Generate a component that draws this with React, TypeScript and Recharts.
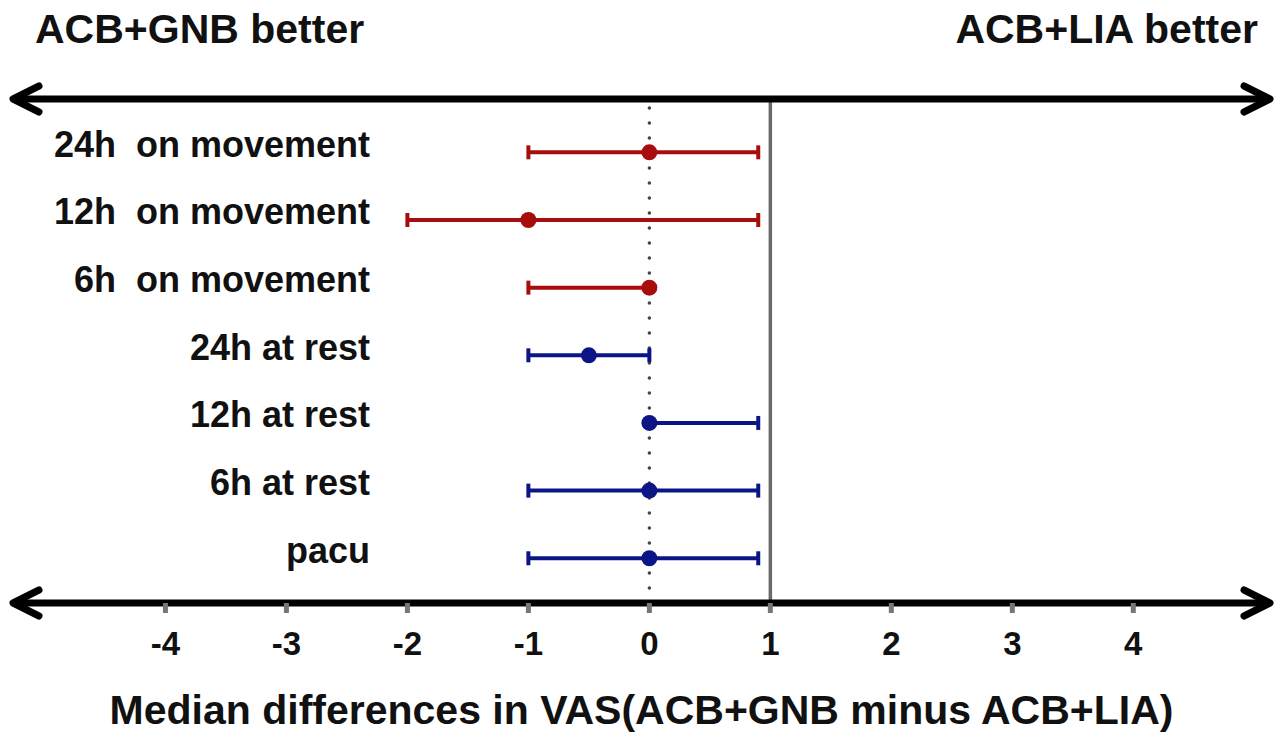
import React from 'react';
import { ScatterChart, Scatter, XAxis, YAxis, ErrorBar, ReferenceLine, Label } from 'recharts';

const labels = ['pacu', '6h at rest', '12h at rest', '24h at rest', '6h  on movement', '12h  on movement', '24h  on movement'];
const rows = [1, 2, 3, 4, 5, 6, 7];
const medians = [0, 0, 0, -0.5, 0, -1, 0];
const ciLow = [-1, -1, 0, -1, -1, -2, -1];
const ciHigh = [0.9, 0.9, 0.9, 0, 0, 0.9, 0.9];
const groups = ['rest', 'rest', 'rest', 'rest', 'movement', 'movement', 'movement'];
const xTicks = [-4, -3, -2, -1, 0, 1, 2, 3, 4];
const xDomain = [-5.26, 5.13];
const yDomain = [0.339, 7.788];
const leftHeader = 'ACB+GNB better';
const rightHeader = 'ACB+LIA better';
const xTitle = 'Median differences in VAS(ACB+GNB minus ACB+LIA)';

const RED = '#A80D0D';
const BLUE = '#0C1585';
const FONT = '"Liberation Sans", Arial, Helvetica, sans-serif';

const allData = rows.map((r, i) => ({
  y: r,
  x: medians[i],
  err: [medians[i] - ciLow[i], ciHigh[i] - medians[i]],
  group: groups[i],
}));
const restData = allData.filter((d) => d.group === 'rest');
const moveData = allData.filter((d) => d.group === 'movement');

const Arrow = (props: any) => {
  const { x1, x2, y1 } = props;
  const h = 26;
  const w = 13;
  return (
    <g>
      <line x1={x1 + 2} y1={y1} x2={x2 - 2} y2={y1} stroke="#000" strokeWidth={7} />
      <polyline
        points={`${x1 + h},${y1 - w} ${x1},${y1} ${x1 + h},${y1 + w}`}
        fill="none"
        stroke="#000"
        strokeWidth={7}
        strokeLinecap="round"
        strokeLinejoin="round"
      />
      <polyline
        points={`${x2 - h},${y1 - w} ${x2},${y1} ${x2 - h},${y1 + w}`}
        fill="none"
        stroke="#000"
        strokeWidth={7}
        strokeLinecap="round"
        strokeLinejoin="round"
      />
    </g>
  );
};

const CatTick = (props: any) => {
  const { y, payload } = props;
  return (
    <text
      x={370}
      y={y + 4.5}
      textAnchor="end"
      fontSize={36}
      fontWeight="bold"
      fill="#111"
      fontFamily={FONT}
      style={{ whiteSpace: 'pre' }}
    >
      {labels[payload.value - 1]}
    </text>
  );
};

const dot = (color: string) => (p: any) => <circle cx={p.cx} cy={p.cy} r={8} fill={color} />;

export default function App() {
  return (
    <div style={{ position: 'absolute', left: 0, top: 0, width: 1277, height: 734, background: '#fff' }}>
      <ScatterChart width={1277} height={734} margin={{ top: 99, right: 7, bottom: 0, left: 12 }}>
        <XAxis
          dataKey="x"
          type="number"
          domain={xDomain}
          ticks={xTicks}
          interval={0}
          allowDataOverflow
          axisLine={false}
          tickLine={{ stroke: '#777', strokeWidth: 5 }}
          tickSize={10}
          tickMargin={19}
          tick={{ fontSize: 33, fontWeight: 'bold', fill: '#111', fontFamily: FONT }}
          height={131}
        >
          <Label value={xTitle} position="insideBottom" offset={10} fill="#111" fontSize={41} fontWeight="bold" fontFamily={FONT} />
        </XAxis>
        <YAxis
          dataKey="y"
          type="number"
          domain={yDomain}
          ticks={rows}
          interval={0}
          allowDataOverflow
          width={1}
          axisLine={false}
          tickLine={false}
          tick={<CatTick />}
        />
        <ReferenceLine x={1} stroke="#6a6a6a" strokeWidth={3.5} />
        <ReferenceLine x={0} stroke="#444" strokeWidth={3.5} strokeDasharray="0 15" strokeLinecap="round" />
        <ReferenceLine y={yDomain[1]} shape={Arrow} />
        <ReferenceLine y={yDomain[0]} shape={Arrow} />
        <Scatter data={moveData} fill={RED} shape={dot(RED)} isAnimationActive={false}>
          <ErrorBar dataKey="err" direction="x" stroke={RED} strokeWidth={4} width={7} isAnimationActive={false} />
        </Scatter>
        <Scatter data={restData} fill={BLUE} shape={dot(BLUE)} isAnimationActive={false}>
          <ErrorBar dataKey="err" direction="x" stroke={BLUE} strokeWidth={4} width={7} isAnimationActive={false} />
        </Scatter>
      </ScatterChart>
      <svg width={1277} height={734} style={{ position: 'absolute', left: 0, top: 0, pointerEvents: 'none' }}>
        <text x={35} y={43} fontSize={41} fontWeight="bold" fill="#111" fontFamily={FONT}>
          {leftHeader}
        </text>
        <text x={1258} y={43} textAnchor="end" fontSize={41} fontWeight="bold" fill="#111" fontFamily={FONT}>
          {rightHeader}
        </text>
      </svg>
    </div>
  );
}
